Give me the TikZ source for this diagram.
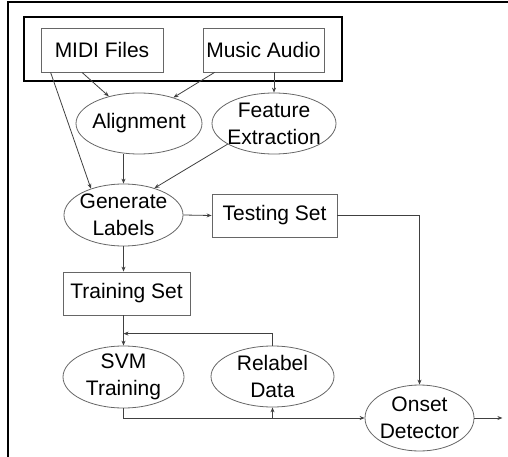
\documentclass[tikz,border=0pt]{standalone}
\usepackage{fontspec}
\setmainfont{Liberation Sans}
\usetikzlibrary{shapes.geometric,arrows.meta,calc}
\begin{document}
\begin{tikzpicture}[x=1pt,y=-1pt,
  every node/.style={font=\fontsize{21}{27}\selectfont, align=center, inner sep=0pt},
  boxn/.style={draw=black!60, line width=0.8pt, rectangle},
  ell/.style={draw=black!60, line width=0.8pt, ellipse, inner sep=-20pt},
  arr/.style={draw=black!75, line width=0.8pt, -{Stealth[length=5pt,width=4pt]}}]
\useasboundingbox (0,0) rectangle (508,457);
% frame
\draw[line width=2pt] (8,457) -- (8,2.5) -- (508,2.5);
% thick group box
\node[draw, line width=2.5pt, minimum width=318pt, minimum height=64pt] (grp) at (183,49) {};
\node[boxn, minimum width=122pt, minimum height=44pt] (midi) at (102,50) {MIDI Files};
\node[boxn, minimum width=121pt, minimum height=44pt] (audio) at (263.5,50) {Music Audio};
\node[ell, minimum width=126pt, minimum height=61pt] (align) at (139,123.5) {Alignment};
\node[ell, minimum width=124pt, minimum height=61pt] (feat) at (274,123.5) {Feature\\Extraction};
\node[ell, minimum width=119pt, minimum height=62pt] (gen) at (123.5,215) {Generate\\Labels};
\node[boxn, minimum width=125pt, minimum height=43pt] (test) at (274.5,215.5) {Testing Set};
\node[boxn, minimum width=127pt, minimum height=43pt] (train) at (126.5,293.5) {Training Set};
\node[ell, minimum width=121pt, minimum height=62pt] (svm) at (123.5,377) {SVM\\Training};
\node[ell, minimum width=123pt, minimum height=61pt] (relabel) at (272.5,376.5) {Relabel\\Data};
\node[ell, minimum width=109pt, minimum height=66pt] (onset) at (419.5,418) {Onset\\Detector};
% connectors
\draw[arr] ([xshift=10pt]midi.south west) -- (gen.141);
\draw[arr] ([xshift=-20pt]midi.south) -- (align.138);
\draw[arr] ([xshift=12pt]audio.south west) -- (align.37);
\draw[arr] (feat.north |- audio.south) -- (feat.north);
\draw[arr] (align.south -| gen.north) -- (gen.north);
\draw[arr] (feat.204) -- (gen.41);
\draw[arr] (gen.east) -- (test.west);
\draw[arr] (test.east) -| (onset.north);
\draw[arr] (gen.south) -- (gen.south |- train.north);
\draw[arr] (svm.north |- train.south) -- (svm.north);
\coordinate (j1) at ($(svm.north)+(0,-12)$);
\draw[arr] (relabel.north) |- (j1);
\draw[arr] (svm.south) |- (onset.west);
\draw[arr] (relabel.south |- onset.west) -- (relabel.south);
\coordinate (out) at ($(onset.east)+(28,0)$);
\draw[arr] (onset.east) -- (out);
\end{tikzpicture}
\end{document}
